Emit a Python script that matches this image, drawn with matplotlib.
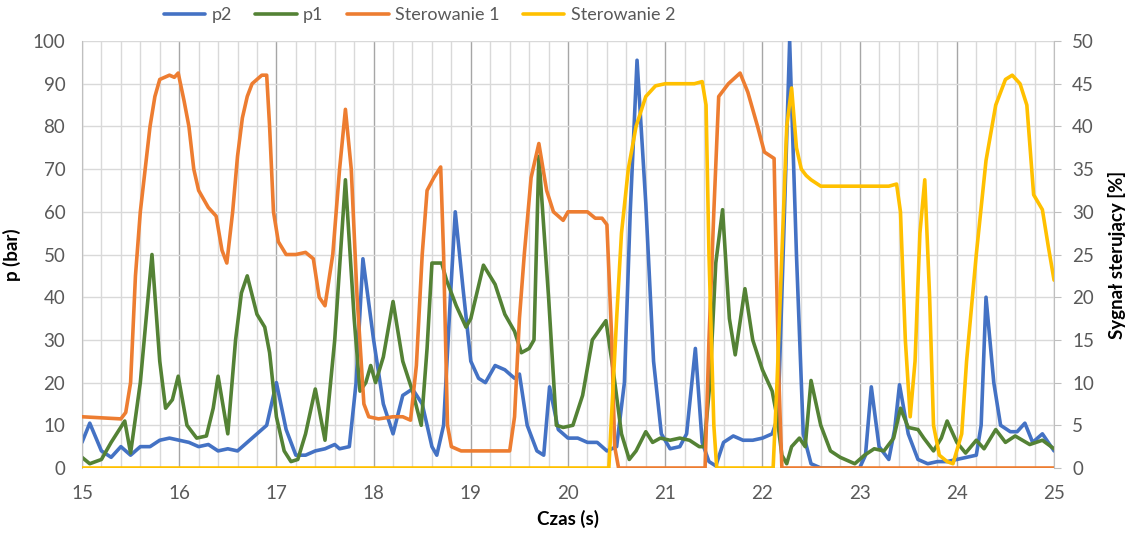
import matplotlib.pyplot as plt
from matplotlib.ticker import MultipleLocator

plt.rcParams['font.family'] = ['Lato', 'DejaVu Sans']

# p2 [bar]
p2_t = [15.0, 15.08, 15.2, 15.3, 15.4, 15.5, 15.6, 15.7, 15.8, 15.9, 16.0, 16.1, 16.2, 16.3,
        16.4, 16.5, 16.6, 16.7, 16.8, 16.9, 17.0, 17.1, 17.2, 17.3, 17.4, 17.5, 17.6, 17.65,
        17.75, 17.82, 17.89, 18.0, 18.1, 18.2, 18.3, 18.4, 18.5, 18.6, 18.65, 18.72, 18.79,
        18.84, 18.92, 19.0, 19.08, 19.15, 19.25, 19.35, 19.45, 19.5, 19.58, 19.68, 19.75,
        19.81, 19.9, 20.0, 20.1, 20.2, 20.3, 20.4, 20.5, 20.58, 20.64, 20.71, 20.8, 20.88,
        20.96, 21.05, 21.15, 21.22, 21.31, 21.38, 21.45, 21.52, 21.6, 21.7, 21.8, 21.9,
        22.0, 22.1, 22.16, 22.22, 22.28, 22.35, 22.42, 22.5, 22.6, 23.0, 23.06, 23.12,
        23.2, 23.3, 23.36, 23.41, 23.5, 23.6, 23.7, 23.8, 23.9, 24.0, 24.1, 24.2, 24.25,
        24.3, 24.38, 24.45, 24.55, 24.62, 24.7, 24.78, 24.88, 25.0]
p2 = [6, 10.5, 4, 2.5, 5, 3, 5, 5, 6.5, 7, 6.5, 6, 5, 5.5,
      4, 4.5, 4, 6, 8, 10, 20, 9, 3, 3, 4, 4.5, 5.5, 4.5,
      5, 20, 49, 30, 15, 8, 17, 18.5, 15, 5, 3, 10, 40,
      60, 42, 25, 21, 20, 24, 23, 21, 22, 10, 4, 3,
      19, 9, 7, 7, 6, 6, 4, 5, 20, 60, 95.5, 62, 25,
      8, 4.5, 5, 8, 28, 6, 1.5, 0.5, 6, 7.5, 6.5, 6.5,
      7, 8, 12, 55, 100, 50, 8, 1, 0, 0, 3, 19,
      5, 2, 9, 19.5, 8, 2, 1, 1.5, 1.5, 2, 2.5, 3, 10,
      40, 20, 10, 8.5, 8.5, 10.5, 6, 8, 4]

# p1 [bar]
p1_t = [15.0, 15.08, 15.2, 15.3, 15.44, 15.5, 15.6, 15.72, 15.8, 15.86, 15.93, 15.99,
        16.08, 16.18, 16.28, 16.35, 16.4, 16.5, 16.58, 16.64, 16.7, 16.8, 16.88, 16.93,
        17.0, 17.08, 17.15, 17.22, 17.3, 17.4, 17.5, 17.6, 17.71, 17.8, 17.86, 17.92,
        17.97, 18.02, 18.1, 18.2, 18.3, 18.4, 18.49, 18.55, 18.6, 18.7, 18.75, 18.85,
        18.95, 19.0, 19.13, 19.25, 19.35, 19.45, 19.52, 19.6, 19.65, 19.7, 19.8, 19.88,
        19.95, 20.05, 20.15, 20.25, 20.39, 20.47, 20.55, 20.63, 20.7, 20.8, 20.87, 20.95,
        21.05, 21.15, 21.25, 21.35, 21.4, 21.46, 21.52, 21.59, 21.66, 21.72, 21.82, 21.9,
        22.0, 22.1, 22.15, 22.2, 22.25, 22.3, 22.38, 22.44, 22.5, 22.6, 22.7, 22.8, 22.95,
        23.05, 23.15, 23.25, 23.35, 23.42, 23.5, 23.6, 23.66, 23.76, 23.84, 23.9, 24.0,
        24.09, 24.2, 24.28, 24.4, 24.5, 24.6, 24.75, 24.88, 25.0]
p1 = [2.5, 1, 2, 6, 11, 3.5, 20, 50, 25, 14, 16, 21.5,
      10, 7, 7.5, 14, 21.5, 8, 30, 41, 45, 36, 33, 27,
      12, 4, 1.5, 2, 8, 18.5, 6.5, 30, 67.5, 35, 18, 20,
      24, 20, 26, 39, 25, 18, 10, 28, 48, 48, 44, 38,
      33, 35, 47.5, 43, 36, 32, 27, 28, 30, 73, 40, 10,
      9.5, 10, 17, 30, 34.5, 22, 8, 2, 4, 8.5, 6, 7,
      6.5, 7, 6.5, 5, 5, 20, 48, 60.5, 35, 26.5, 42, 30,
      23, 18, 12, 3, 1, 5, 7, 5, 20.5, 10, 4, 2.5, 1,
      3, 4.5, 4, 7, 14, 9.5, 9, 7, 4, 7, 11, 6,
      3.5, 6.5, 4.5, 9, 6, 7.5, 5.5, 6.5, 4.5]

# Sterowanie 1 [%]
st1_t = [15.0, 15.4, 15.45, 15.5, 15.55, 15.6, 15.65, 15.7, 15.75, 15.8, 15.9, 15.95,
         15.99, 16.05, 16.1, 16.15, 16.2, 16.3, 16.38, 16.44, 16.49, 16.55, 16.6, 16.65,
         16.7, 16.75, 16.85, 16.9, 16.93, 16.97, 17.02, 17.1, 17.2, 17.3, 17.38, 17.44,
         17.5, 17.58, 17.65, 17.71, 17.77, 17.83, 17.9, 17.95, 18.05, 18.2, 18.3, 18.38,
         18.44, 18.5, 18.55, 18.62, 18.69, 18.72, 18.76, 18.8, 18.9, 19.2, 19.4, 19.45,
         19.5, 19.55, 19.62, 19.7, 19.78, 19.85, 19.95, 20.0, 20.1, 20.2, 20.28, 20.35,
         20.4, 20.45, 20.48, 20.52, 21.41, 21.45, 21.5, 21.55, 21.65, 21.77, 21.85, 21.95,
         22.02, 22.12, 22.14, 22.17, 22.2, 25.0]
st1 = [6, 5.75, 6.5, 10, 22.5, 30, 35, 40, 43.5, 45.5, 46, 45.75,
       46.25, 43, 40, 35, 32.5, 30.5, 29.5, 25.5, 24, 30, 36.5, 41,
       43.5, 45, 46, 46, 40, 30, 26.5, 25, 25, 25.25, 24.5, 20,
       19, 25, 35, 42, 35, 20, 7.5, 6, 5.75, 6, 6, 5.6,
       12, 25, 32.5, 34, 35.25, 25, 5, 2.5, 2, 2, 2, 6,
       17.5, 25, 34, 38, 32.5, 30, 29, 30, 30, 30, 29.25, 29.25,
       28.5, 15, 2.5, 0, 0, 15, 30, 43.5, 45, 46.25, 44, 40,
       37, 36.25, 25, 10, 0, 0]

# Sterowanie 2 [%]
st2_t = [15.0, 20.42, 20.5, 20.55, 20.62, 20.7, 20.8, 20.9, 21.0, 21.3, 21.38, 21.42,
         21.45, 21.5, 21.53, 22.11, 22.15, 22.2, 22.25, 22.3, 22.35, 22.4, 22.45, 22.5,
         22.6, 22.7, 23.0, 23.3, 23.38, 23.42, 23.47, 23.52, 23.57, 23.62, 23.67, 23.72,
         23.76, 23.82, 23.9, 23.96, 24.05, 24.1, 24.2, 24.3, 24.4, 24.5, 24.57, 24.65,
         24.72, 24.79, 24.88, 24.94, 25.0]
st2 = [0, 0, 17.5, 27.5, 35, 40, 43.5, 44.75, 45, 45, 45.25, 42.5,
       25, 5, 0, 0, 10, 25, 40, 44.5, 37.5, 35, 34.25, 33.75,
       33, 33, 33, 33, 33.25, 30, 15, 6, 12.5, 27.5, 33.75, 20,
       5, 1.5, 0.75, 0.5, 4, 12.5, 25, 36, 42.5, 45.5, 46, 45,
       42.5, 32, 30.25, 26, 22]

fig = plt.figure(figsize=(11.34, 5.37), dpi=100)
ax = fig.add_axes([0.0723, 0.1285, 0.8572, 0.7951])
ax2 = ax.twinx()

lw = 2.6
style = dict(lw=lw, solid_joinstyle='round', solid_capstyle='round')
l1, = ax.plot(p2_t, p2, color='#4472C4', label='p2', **style)
l2, = ax.plot(p1_t, p1, color='#548235', label='p1', **style)
l3, = ax2.plot(st1_t, st1, color='#ED7D31', label='Sterowanie 1', **style)
l4, = ax2.plot(st2_t, st2, color='#FFC000', label='Sterowanie 2', **style)

ax.set_xlim(15, 25)
ax.set_ylim(0, 100)
ax2.set_ylim(0, 50)
ax.xaxis.set_major_locator(MultipleLocator(1))
ax.xaxis.set_minor_locator(MultipleLocator(0.2))
ax.yaxis.set_major_locator(MultipleLocator(10))
ax2.yaxis.set_major_locator(MultipleLocator(5))

ax.grid(True, which='major', axis='x', color='#A6A6A6', lw=1)
ax.grid(True, which='minor', axis='x', color='#D9D9D9', lw=1)
ax.grid(True, which='major', axis='y', color='#D9D9D9', lw=1)
ax.set_axisbelow(True)

for a in (ax, ax2):
    for s in a.spines.values():
        s.set_visible(False)
ax.spines['left'].set_visible(True)
ax.spines['left'].set_color('#BFBFBF')
ax2.spines['right'].set_visible(True)
ax2.spines['right'].set_color('#BFBFBF')

ax.tick_params(axis='x', which='both', length=0, labelsize=13.5, colors='#595959', pad=12)
ax.tick_params(axis='y', length=0, labelsize=13.5, colors='#595959', pad=12)
ax2.tick_params(axis='y', length=5, color='#BFBFBF', labelsize=13.5, labelcolor='#595959', pad=8)

ax.set_xlabel('Czas (s)', fontsize=13.5, fontweight='bold', labelpad=6)
ax.set_ylabel('p (bar)', fontsize=13.5, fontweight='bold', labelpad=8)
ax2.set_ylabel('Sygnał sterujący [%]', fontsize=13.5, fontweight='bold', labelpad=10)

fig.legend(handles=[l1, l2, l3, l4], loc='center left', bbox_to_anchor=(0.13, 0.972),
           ncol=4, frameon=False, fontsize=13, handlelength=2.3, columnspacing=1.3,
           handletextpad=0.35, labelcolor='#595959')

fig.savefig('out.png', dpi=100)
